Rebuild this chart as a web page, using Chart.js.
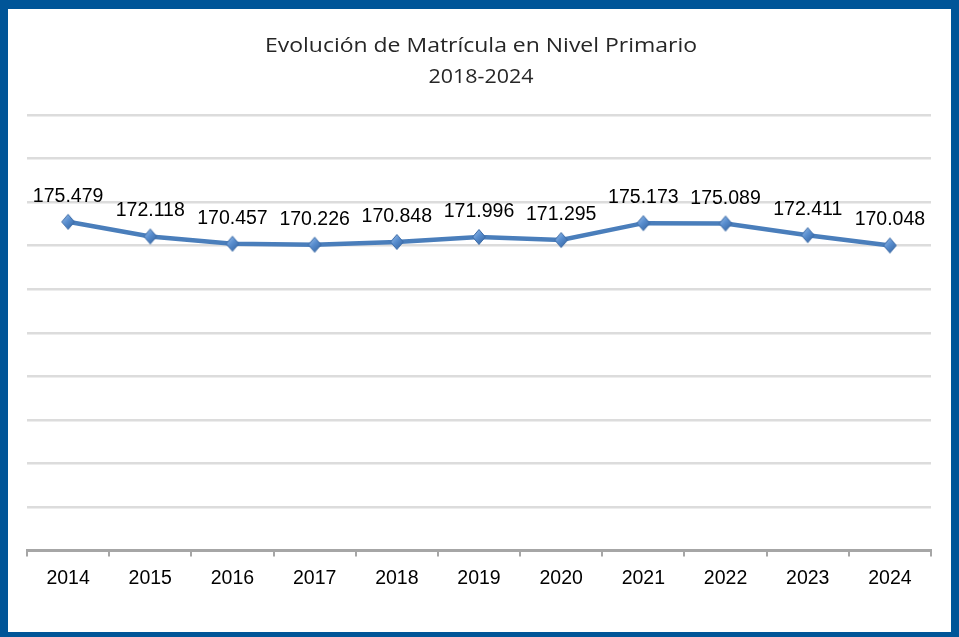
<!DOCTYPE html>
<html>
<head>
<meta charset="utf-8">
<script src="https://cdn.jsdelivr.net/npm/chart.js@4.4.1/dist/chart.umd.min.js"></script>
<style>
  html, body { margin: 0; padding: 0; background: #ffffff; overflow: hidden; }
  #wrap { position: relative; width: 959px; height: 637px; }
  #c { position: absolute; left: 0; top: 0; }
  #frame { position: absolute; left: 0; top: 0; width: 959px; height: 637px; box-sizing: border-box;
           border-style: solid; border-color: #005598; border-width: 9px 8px 5px 8px; pointer-events: none; }
</style>
</head>
<body>
<div id="wrap">
  <canvas id="c" width="959" height="637"></canvas>
  <div id="frame"></div>
</div>
<script>
const titleLines = ["Evolución de Matrícula en Nivel Primario", "2018-2024"];
const years = ["2014", "2015", "2016", "2017", "2018", "2019", "2020", "2021", "2022", "2023", "2024"];
const enrollment = [175479, 172118, 170457, 170226, 170848, 171996, 171295, 175173, 175089, 172411, 170048];
const yMin = 100000;
const yMax = 200000;
const yStep = 10000;

function fmt(v) { return String(v).replace(/\B(?=(\d{3})+(?!\d))/g, '.'); }

// diamond marker with gradient
function makeDiamond() {
  const s = 18, c = document.createElement('canvas');
  c.width = s; c.height = s;
  const g = c.getContext('2d');
  const r = 7.5, m = s / 2;
  const grad = g.createLinearGradient(m - r, m - r, m + r, m + r);
  grad.addColorStop(0, '#a9c8ec');
  grad.addColorStop(0.45, '#5a8fd0');
  grad.addColorStop(1, '#2d5c98');
  g.beginPath();
  g.moveTo(m, m - r); g.lineTo(m + r * 0.85, m); g.lineTo(m, m + r); g.lineTo(m - r * 0.85, m); g.closePath();
  g.fillStyle = grad; g.fill();
  g.lineWidth = 1; g.strokeStyle = '#3b6aa6'; g.stroke();
  return c;
}

const titlePlugin = {
  id: 'titlePlugin',
  afterDraw(chart) {
    const ctx = chart.ctx;
    const targets = [432, 105];
    const ys = [52, 83];
    titleLines.forEach((t, i) => {
      ctx.save();
      ctx.fillStyle = '#262626';
      ctx.textAlign = 'center';
      ctx.textBaseline = 'alphabetic';
      ctx.font = '19.5px "Open Sans"';
      const w = ctx.measureText(t).width;
      const sx = targets[i] / w;
      ctx.translate(481, ys[i]);
      ctx.scale(sx, 1);
      ctx.fillText(t, 0, 0);
      ctx.restore();
    });
  }
};

const labelPlugin = {
  id: 'labelPlugin',
  afterDatasetsDraw(chart) {
    const ctx = chart.ctx;
    const meta = chart.getDatasetMeta(0);
    ctx.save();
    ctx.fillStyle = '#000000';
    ctx.font = '19.5px "Liberation Sans", Arial, sans-serif';
    ctx.textAlign = 'center';
    ctx.textBaseline = 'alphabetic';
    meta.data.forEach((pt, i) => {
      ctx.fillText(fmt(enrollment[i]), pt.x, pt.y - 20);
    });
    ctx.restore();
  }
};

new Chart(document.getElementById('c'), {
  type: 'line',
  data: {
    labels: years,
    datasets: [{
      data: enrollment,
      borderColor: '#4a7ebb',
      borderWidth: 4.5,
      pointStyle: makeDiamond(),
      pointRadius: 8,
      tension: 0,
      fill: false
    }]
  },
  options: {
    responsive: false,
    animation: false,
    devicePixelRatio: 1,
    layout: { padding: { top: 115, left: 27, right: 28, bottom: 37 } },
    plugins: { legend: { display: false }, title: { display: false }, tooltip: { enabled: false } },
    scales: {
      x: {
        offset: true,
        grid: { offset: true, drawOnChartArea: false, drawTicks: true, tickLength: 6, color: '#a6a6a6', lineWidth: 2 },
        border: { display: true, color: '#a6a6a6', width: 3 },
        ticks: { color: '#000000', font: { family: '"Liberation Sans", Arial, sans-serif', size: 19.5 }, padding: 10, maxRotation: 0 }
      },
      y: {
        min: yMin, max: yMax,
        ticks: { display: false, stepSize: yStep },
        border: { display: false },
        grid: { color: '#dcdcdc', lineWidth: 2.5, drawTicks: false }
      }
    }
  },
  plugins: [titlePlugin, labelPlugin]
});
</script>
</body>
</html>
